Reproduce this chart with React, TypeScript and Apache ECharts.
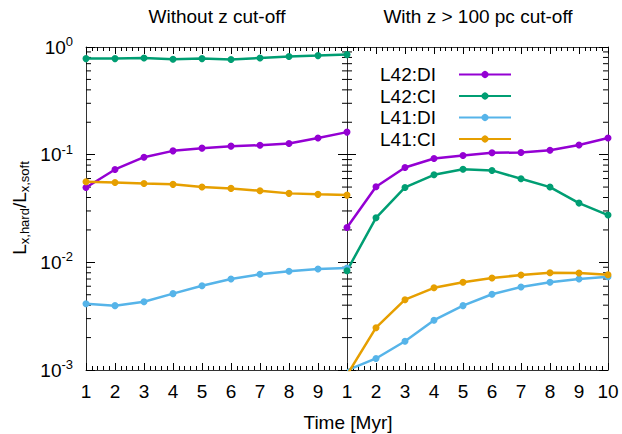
import React, { useEffect, useRef } from "react";
import * as echarts from "echarts";

const time = [1, 2, 3, 4, 5, 6, 7, 8, 9, 10];
const seriesNames = ["L42:DI", "L42:CI", "L41:DI", "L41:CI"];
const colors = ["#9400d3", "#009e73", "#56b4e9", "#e69f00"];

// Left panel: without z cut-off
const leftL42DI = [0.0496, 0.0729, 0.0948, 0.1085, 0.115, 0.12, 0.1225, 0.127, 0.143, 0.162];
const leftL42CI = [0.78, 0.78, 0.79, 0.77, 0.78, 0.765, 0.79, 0.815, 0.832, 0.85];
const leftL41DI = [0.00413, 0.00396, 0.00431, 0.00512, 0.00607, 0.007, 0.00774, 0.00826, 0.00867, 0.00887];
const leftL41CI = [0.056, 0.0552, 0.054, 0.053, 0.05, 0.0486, 0.0462, 0.0437, 0.0428, 0.0421];

// Right panel: with z > 100 pc cut-off
const rightL42DI = [0.0211, 0.0503, 0.076, 0.0922, 0.0984, 0.104, 0.1048, 0.11, 0.123, 0.143];
const rightL42CI = [0.00836, 0.0259, 0.0496, 0.065, 0.0733, 0.0714, 0.0597, 0.05, 0.0355, 0.0275];
const rightL41DI = [0.00099, 0.00128, 0.00185, 0.0029, 0.00396, 0.00505, 0.0059, 0.00652, 0.007, 0.00735];
const rightL41CI = [0.0009, 0.00247, 0.0045, 0.0058, 0.00652, 0.00715, 0.00762, 0.008, 0.00796, 0.00767];

const titles = ["Without z cut-off", "With z > 100 pc cut-off"];
const xTitle = "Time [Myr]";

const FONT = "'Liberation Sans', Arial, sans-serif";
const AXIS_COLOR = "#333";

// minor tick positions on log axis (2..9 of each decade)
const minorTickValues: number[] = [];
[0.001, 0.01, 0.1].forEach((d) => {
  for (let k = 2; k <= 9; k++) minorTickValues.push(+(k * d).toPrecision(3));
});

export default function App() {
  const ref = useRef<HTMLDivElement>(null);
  useEffect(() => {
    if (!ref.current) return;
    const chart = echarts.init(ref.current, undefined, { renderer: "svg" });

    const grids = [
      { left: 86, top: 47, width: 261, height: 323 },
      { left: 347, top: 47, width: 261, height: 323 },
    ];

    const mkX = (gridIndex: number, position: string, showLabels: boolean, hideLast: boolean) => ({
      type: "value",
      gridIndex,
      position,
      min: 1,
      max: 10,
      interval: 1,
      axisLine: { show: true, lineStyle: { color: AXIS_COLOR, width: 1 } },
      axisTick: { show: true, inside: true, length: 7, lineStyle: { color: "#000", width: 1 } },
      minorTick: { show: true, splitNumber: 5, length: 4, lineStyle: { color: "#000", width: 1 } },
      splitLine: { show: false },
      axisLabel: {
        show: showLabels,
        margin: 12,
        fontSize: 19,
        fontFamily: FONT,
        color: "#000",
        formatter: (v: number) => (hideLast && v === 10 ? "" : String(v)),
      },
    });

    const mkY = (gridIndex: number, position: string, showLabels: boolean) => ({
      type: "log",
      logBase: 10,
      gridIndex,
      position,
      min: 0.001,
      max: 1,
      axisLine: { show: true, lineStyle: { color: AXIS_COLOR, width: 1 } },
      axisTick: { show: true, inside: true, length: 9, lineStyle: { color: "#000", width: 1 } },
      splitLine: { show: false },
      axisLabel: {
        show: showLabels,
        margin: 13,
        fontFamily: FONT,
        color: "#000",
        formatter: (v: number) => `{b|10}{s|${Math.round(Math.log10(v))}}`,
        rich: {
          b: { fontSize: 19, fontFamily: FONT, color: "#000", lineHeight: 24 },
          s: { fontSize: 13, fontFamily: FONT, color: "#000", verticalAlign: "top", lineHeight: 13 },
        },
      },
    });

    const leftData = [leftL42DI, leftL42CI, leftL41DI, leftL41CI];
    const rightData = [rightL42DI, rightL42CI, rightL41DI, rightL41CI];

    const lineSeries: any[] = [];
    [leftData, rightData].forEach((set, panel) => {
      set.forEach((vals, i) => {
        lineSeries.push({
          type: "line",
          name: seriesNames[i],
          xAxisIndex: panel * 2,
          yAxisIndex: panel * 2,
          data: time.map((t, j) => [t, vals[j]]),
          symbol: "circle",
          symbolSize: 7,
          showSymbol: true,
          clip: true,
          lineStyle: { color: colors[i], width: 2.5 },
          itemStyle: { color: colors[i] },
          z: 3,
        });
      });
    });

    const minorSeries = [0, 1].map((panel) => ({
      type: "custom",
      xAxisIndex: panel * 2,
      yAxisIndex: panel * 2,
      silent: true,
      data: minorTickValues.map((v) => [1, v]),
      encode: { x: 0, y: 1 },
      renderItem: (params: any, api: any) => {
        const v = api.value(1);
        const pL = api.coord([1, v]);
        const pR = api.coord([10, v]);
        return {
          type: "group",
          children: [
            { type: "line", shape: { x1: pL[0], y1: pL[1], x2: pL[0] + 5, y2: pL[1] }, style: { stroke: "#000", lineWidth: 1 } },
            { type: "line", shape: { x1: pR[0] - 5, y1: pR[1], x2: pR[0], y2: pR[1] }, style: { stroke: "#000", lineWidth: 1 } },
          ],
        };
      },
      z: 1,
    }));

    chart.setOption({
      animation: false,
      backgroundColor: "#fff",
      grid: grids,
      xAxis: [
        mkX(0, "bottom", true, true),
        mkX(0, "top", false, false),
        mkX(1, "bottom", true, false),
        mkX(1, "top", false, false),
      ],
      yAxis: [
        mkY(0, "left", true),
        mkY(0, "right", false),
        mkY(1, "left", false),
        mkY(1, "right", false),
      ],
      legend: {
        data: seriesNames,
        orient: "vertical",
        left: 380,
        top: 65,
        align: "right",
        itemWidth: 52,
        itemHeight: 9,
        itemGap: 2.5,
        padding: 0,
        selectedMode: false,
        formatter: (name: string) => `{a|${name}}`,
        textStyle: {
          fontSize: 19,
          fontFamily: FONT,
          color: "#000",
          lineHeight: 18,
          rich: {
            a: { fontSize: 19, fontFamily: FONT, color: "#000", width: 74, align: "left", lineHeight: 18 },
          },
        },
      },
      graphic: [
        {
          type: "text",
          x: 217,
          y: 16,
          style: { text: titles[0], font: `19px ${FONT}`, fill: "#000", align: "center", verticalAlign: "middle", textAlign: "center", textVerticalAlign: "middle" },
        },
        {
          type: "text",
          x: 478,
          y: 16,
          style: { text: titles[1], font: `19px ${FONT}`, fill: "#000", align: "center", verticalAlign: "middle", textAlign: "center", textVerticalAlign: "middle" },
        },
        {
          type: "text",
          x: 348,
          y: 422,
          style: { text: xTitle, font: `19px ${FONT}`, fill: "#000", align: "center", verticalAlign: "middle", textAlign: "center", textVerticalAlign: "middle" },
        },
        {
          type: "text",
          x: 19,
          y: 208,
          rotation: Math.PI / 2,
          style: {
            text: "{m|L}{sub|x,hard}{m|/L}{sub|x,soft}",
            align: "center",
            verticalAlign: "middle",
            textAlign: "center",
            textVerticalAlign: "middle",
            fill: "#000",
            rich: {
              m: { fontSize: 19, fontFamily: FONT, fill: "#000", color: "#000", lineHeight: 24 },
              sub: { fontSize: 13, fontFamily: FONT, fill: "#000", color: "#000", verticalAlign: "bottom", lineHeight: 13 },
            },
          },
        },
      ],
      series: [...minorSeries, ...lineSeries],
    });

    return () => chart.dispose();
  }, []);

  return <div ref={ref} style={{ position: "fixed", left: 0, top: 0, width: 622, height: 434 }} />;
}
